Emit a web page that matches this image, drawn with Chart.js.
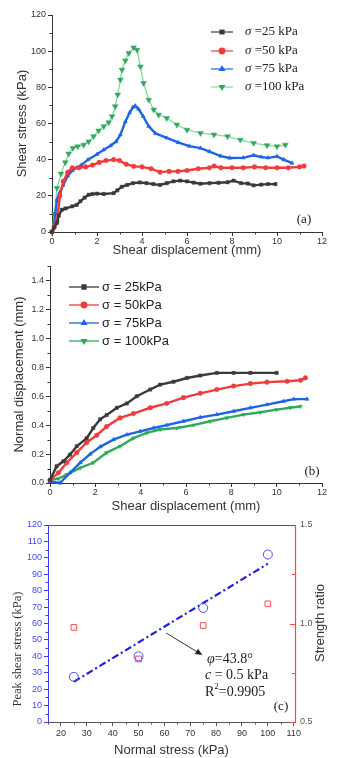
<!DOCTYPE html>
<html>
<head>
<meta charset="utf-8">
<script src="https://cdn.jsdelivr.net/npm/chart.js@4.4.1/dist/chart.umd.min.js"></script>
<style>
  html, body { margin: 0; padding: 0; background: #fff; }
  #wrap { position: relative; width: 355px; height: 758px; overflow: hidden; }
  canvas { position: absolute; left: 0; }
</style>
</head>
<body>
<div id="wrap">
  <canvas id="chart-a" width="355" height="258" style="top:0"></canvas>
  <canvas id="chart-b" width="355" height="256" style="top:258px"></canvas>
  <canvas id="chart-c" width="355" height="245" style="top:513px"></canvas>
</div>
<script>
// ---- (a) shear stress vs shear displacement ----
const a25x = [0, 0.1, 0.22, 0.3, 0.44, 0.6, 0.9, 1.1, 1.26, 1.45, 1.63, 1.8, 2.0, 2.3, 2.74, 2.9, 3.1, 3.33, 3.6, 3.9, 4.2, 4.5, 4.8, 5.1, 5.4, 5.7, 6.0, 6.3, 6.6, 7.0, 7.4, 7.8, 8.07, 8.4, 8.7, 8.96, 9.3, 9.6, 9.93];
const a25y = [0, 2.5, 5, 9, 12.3, 13, 14.2, 15, 17, 19, 20.6, 21, 21.2, 21, 21.5, 23, 25, 26, 27, 27.4, 27, 26.5, 26, 27, 28, 28.4, 28, 27.3, 26.7, 27, 27.2, 27.5, 28.4, 27, 26.8, 25.8, 26.2, 26.5, 26.5];
const a50x = [0, 0.1, 0.22, 0.35, 0.5, 0.7, 0.9, 1.2, 1.5, 1.8, 2.1, 2.4, 2.74, 3.0, 3.3, 3.63, 4.0, 4.4, 4.8, 5.2, 5.6, 6.0, 6.5, 7.0, 7.2, 7.5, 8.0, 8.5, 9.0, 9.5, 10.0, 10.5, 11.0, 11.2];
const a50y = [0, 3, 6, 20, 28, 33, 35.5, 35.5, 36, 37, 38.5, 39.5, 40, 39.5, 37.5, 36.3, 36, 35, 33.1, 33.5, 33.5, 34, 35, 35.5, 36.5, 35.5, 35.5, 35.5, 36, 35.5, 35.5, 35.5, 36, 36.5];
const a75x = [0, 0.1, 0.15, 0.22, 0.35, 0.5, 0.7, 0.9, 1.1, 1.3, 1.6, 2.0, 2.3, 2.6, 2.85, 3.04, 3.26, 3.45, 3.6, 3.7, 3.85, 4.05, 4.3, 4.6, 5.1, 5.6, 6.1, 6.6, 7.0, 7.5, 7.9, 8.5, 8.96, 9.3, 9.6, 10.0, 10.3, 10.67];
const a75y = [0, 5, 10, 17.9, 22, 26, 31, 34, 35.5, 37, 40, 43, 45.5, 47.7, 50, 53.8, 61, 66, 69, 69.8, 68, 64, 58.4, 54.5, 52, 49.5, 47.5, 46.4, 44.5, 42, 40.9, 41, 42.4, 41.5, 41, 41.8, 40, 38.1];
const a100x = [0, 0.1, 0.22, 0.4, 0.59, 0.74, 0.93, 1.14, 1.41, 1.63, 1.85, 2.07, 2.3, 2.52, 2.67, 2.81, 2.92, 3.04, 3.11, 3.26, 3.41, 3.63, 3.78, 3.93, 4.07, 4.3, 4.52, 4.74, 5.1, 5.55, 6.0, 6.6, 7.2, 7.8, 8.37, 8.96, 9.56, 10.0, 10.37];
const a100y = [0, 10, 24.3, 32.2, 38.5, 43.3, 46.4, 47.3, 48.2, 50, 52.9, 56, 58.4, 60.6, 63.9, 69.4, 75.9, 84.2, 89.7, 94.8, 98.9, 102, 100.7, 91.5, 82.3, 73.1, 67.6, 64.8, 63, 59.3, 56.5, 54.7, 53.8, 52.9, 51, 49.2, 47.9, 47.3, 48.2];
const legendA = ['=25 kPa', '=50 kPa', '=75 kPa', '=100 kPa'];

// ---- (b) normal displacement vs shear displacement ----
const b25x = [0, 0.29, 0.59, 0.88, 1.18, 1.62, 1.91, 2.21, 2.5, 2.95, 3.39, 3.83, 4.42, 4.86, 5.45, 6.04, 6.63, 7.36, 8.1, 8.84, 10.0];
const b25y = [0.02, 0.115, 0.15, 0.196, 0.254, 0.31, 0.38, 0.44, 0.47, 0.52, 0.55, 0.6, 0.646, 0.68, 0.7, 0.726, 0.743, 0.761, 0.761, 0.761, 0.761];
const b50x = [0, 0.37, 0.74, 1.18, 1.62, 2.06, 2.5, 3.09, 3.68, 4.42, 5.15, 5.89, 6.63, 7.36, 8.1, 8.84, 9.57, 10.46, 11.05, 11.27];
const b50y = [0.02, 0.07, 0.14, 0.21, 0.28, 0.33, 0.39, 0.45, 0.48, 0.52, 0.55, 0.59, 0.62, 0.646, 0.67, 0.687, 0.697, 0.703, 0.71, 0.727];
const b75x = [0, 0.44, 0.88, 1.33, 1.77, 2.21, 2.8, 3.39, 3.98, 4.57, 5.15, 5.89, 6.63, 7.36, 8.1, 8.84, 9.57, 10.3, 10.75, 11.34];
const b75y = [0.01, 0.0, 0.07, 0.14, 0.2, 0.25, 0.3, 0.334, 0.357, 0.38, 0.4, 0.427, 0.454, 0.473, 0.496, 0.519, 0.542, 0.565, 0.58, 0.58];
const b100x = [0, 0.37, 0.74, 1.33, 1.91, 2.5, 3.09, 3.68, 4.27, 4.86, 5.6, 6.33, 7.07, 7.8, 8.54, 9.28, 10.0, 10.6, 11.05];
const b100y = [0.02, 0.03, 0.058, 0.104, 0.14, 0.21, 0.254, 0.31, 0.346, 0.37, 0.38, 0.4, 0.427, 0.45, 0.473, 0.489, 0.507, 0.52, 0.53];
const legendB = ['σ = 25kPa', 'σ = 50kPa', 'σ = 75kPa', 'σ = 100kPa'];

// ---- (c) peak shear stress / strength ratio vs normal stress ----
const cStress = [25, 50, 75, 100];
const cPeak = [27.5, 40, 69.5, 102];
const cRatio = [0.98, 0.82, 0.99, 1.10];
const cFitX = [25, 100];
const cFitY = [24.5, 96.4];

const colors = {
    black: '#3a3a3a',
    red: '#f03c3c',
    blue: '#1e64e6',
    green: '#2eaa5c',
    greenLine: '#86d6a6'
};

Chart.defaults.font.family = "'Liberation Sans', Arial, sans-serif";
Chart.defaults.color = '#333';

const pts = (xs, ys) => xs.map((x, i) => ({ x, y: ys[i] }));

// small tick marks between labels, drawn after the chart
const minorTicks = {
    id: 'minorTicks',
    afterDraw(chart, args, opts) {
        const ctx = chart.ctx;
        (opts.list || []).forEach(m => {
            const s = chart.scales[m.id];
            ctx.save();
            ctx.strokeStyle = m.color;
            ctx.lineWidth = 1;
            ctx.beginPath();
            for (let v = m.from; v <= s.max + 1e-9; v += m.step) {
                if (v < s.min - 1e-9) continue;
                const p = Math.round(s.getPixelForValue(v)) + 0.5;
                if (s.isHorizontal()) {
                    ctx.moveTo(p, s.top);
                    ctx.lineTo(p, s.top + m.len);
                } else if (s.position === 'left') {
                    const x0 = s.right;
                    ctx.moveTo(x0, p);
                    ctx.lineTo(m.dir === 'in' ? x0 + m.len : x0 - m.len, p);
                } else {
                    const x0 = s.left;
                    ctx.moveTo(x0, p);
                    ctx.lineTo(m.dir === 'in' ? x0 - m.len : x0 + m.len, p);
                }
            }
            ctx.stroke();
            ctx.restore();
        });
    }
};

function axis(color, labelColor) {
    return {
        border: { display: true, color: color, width: 1 },
        grid: { display: true, drawOnChartArea: false, drawTicks: true, tickLength: 4, color: color },
        ticks: { color: labelColor || '#333', font: { size: 9 }, padding: 2, includeBounds: false }
    };
}

function marker(ctx, style, rotation, color, x, y, r) {
    ctx.fillStyle = color;
    ctx.strokeStyle = color;
    Chart.helpers.drawPoint(ctx, { pointStyle: style, radius: r, rotation: rotation, borderWidth: 0.5 }, x, y);
}

const seriesStyle = [
    { color: colors.black, line: colors.black, style: 'rect', rot: 0 },
    { color: colors.red, line: colors.red, style: 'circle', rot: 0 },
    { color: colors.blue, line: colors.blue, style: 'triangle', rot: 0 },
    { color: colors.green, line: colors.greenLine, style: 'triangle', rot: 180 }
];

function ds(data, i, dense) {
    const st = seriesStyle[i];
    return {
        data: data,
        showLine: true,
        borderColor: st.line,
        backgroundColor: st.color,
        pointBorderColor: st.color,
        pointBackgroundColor: st.color,
        pointBorderWidth: 0.5,
        borderWidth: dense ? 2.4 : 1.3,
        pointRadius: dense ? 2.3 : 3.3,
        pointStyle: st.style,
        pointRotation: st.rot,
        tension: 0,
        clip: false
    };
}

// ---------- chart (a) ----------
const legendPluginA = {
    id: 'legendA',
    afterDraw(chart) {
        const ctx = chart.ctx;
        const rows = [32, 51, 69, 87];
        ctx.save();
        rows.forEach((y, i) => {
            const st = seriesStyle[i];
            ctx.strokeStyle = st.line;
            ctx.lineWidth = 1.2;
            ctx.beginPath();
            ctx.moveTo(211, y);
            ctx.lineTo(233, y);
            ctx.stroke();
            marker(ctx, st.style, st.rot, st.color, 222, y, 2.8);
            ctx.fillStyle = '#222';
            ctx.textBaseline = 'middle';
            ctx.font = "italic 13px 'Liberation Serif', serif";
            ctx.fillText('σ', 245, y);
            const w = ctx.measureText('σ ').width;
            ctx.font = "13px 'Liberation Serif', serif";
            ctx.fillText(legendA[i], 245 + w, y);
        });
        ctx.font = "13px 'Liberation Serif', serif";
        ctx.textAlign = 'center';
        ctx.fillText('(a)', 304, 220);
        ctx.restore();
    }
};

const axA = axis('#333');
const ayA = axis('#333');
new Chart(document.getElementById('chart-a'), {
    type: 'scatter',
    data: {
        datasets: [
            ds(pts(a25x, a25y), 0, true),
            ds(pts(a50x, a50y), 1, true),
            ds(pts(a75x, a75y), 2, true),
            ds(pts(a100x, a100y), 3, false)
        ]
    },
    options: {
        responsive: false,
        animation: false,
        devicePixelRatio: 1,
        events: [],
        layout: { padding: { left: 0, right: 33, top: 15, bottom: 0 } },
        plugins: {
            legend: { display: false },
            tooltip: { enabled: false },
            minorTicks: {
                list: [
                    { id: 'x', from: 1, step: 2, len: 2.5, color: '#333' },
                    { id: 'y', from: 10, step: 20, len: 2.5, color: '#333' }
                ]
            }
        },
        scales: {
            x: Object.assign(axA, {
                type: 'linear', min: 0, max: 12,
                ticks: Object.assign(axA.ticks, { stepSize: 2, padding: 0 }),
                title: { display: true, text: 'Shear displacement (mm)', color: '#333', font: { size: 13 }, padding: { top: 0, bottom: 0 } },
                afterFit: s => { s.height = 26; }
            }),
            y: Object.assign(ayA, {
                min: 0, max: 120,
                ticks: Object.assign(ayA.ticks, { stepSize: 20 }),
                title: { display: true, text: 'Shear stress (kPa)', color: '#333', font: { size: 13 }, padding: { top: 15, bottom: 0 } },
                afterFit: s => { s.width = 52; }
            })
        }
    },
    plugins: [minorTicks, legendPluginA]
});

// ---------- chart (b) ----------
const legendPluginB = {
    id: 'legendB',
    afterDraw(chart) {
        const ctx = chart.ctx;
        const rows = [29, 47, 65, 83];
        ctx.save();
        rows.forEach((y, i) => {
            const st = seriesStyle[i];
            ctx.strokeStyle = i === 3 ? colors.green : st.line;
            ctx.lineWidth = 1.3;
            ctx.beginPath();
            ctx.moveTo(69, y);
            ctx.lineTo(99, y);
            ctx.stroke();
            marker(ctx, st.style, st.rot, st.color, 84, y, 2.8);
            ctx.fillStyle = '#222';
            ctx.textBaseline = 'middle';
            ctx.font = "13px 'Liberation Sans', Arial, sans-serif";
            ctx.fillText(legendB[i], 102, y);
        });
        ctx.font = "13px 'Liberation Serif', serif";
        ctx.textAlign = 'center';
        ctx.fillText('(b)', 312, 214);
        ctx.restore();
    }
};

const axB = axis('#333');
const ayB = axis('#333');
new Chart(document.getElementById('chart-b'), {
    type: 'scatter',
    data: {
        datasets: [
            ds(pts(b25x, b25y), 0, true),
            ds(pts(b50x, b50y), 1, true),
            ds(pts(b75x, b75y), 2, true),
            Object.assign(ds(pts(b100x, b100y), 3, true), { borderColor: colors.green })
        ]
    },
    options: {
        responsive: false,
        animation: false,
        devicePixelRatio: 1,
        events: [],
        layout: { padding: { left: 0, right: 33, top: 8, bottom: 0 } },
        plugins: {
            legend: { display: false },
            tooltip: { enabled: false },
            minorTicks: {
                list: [
                    { id: 'x', from: 1, step: 2, len: 2.5, color: '#333' },
                    { id: 'y', from: 0.1, step: 0.2, len: 2.5, color: '#333' }
                ]
            }
        },
        scales: {
            x: Object.assign(axB, {
                type: 'linear', min: 0, max: 12,
                ticks: Object.assign(axB.ticks, { stepSize: 2, padding: 0 }),
                title: { display: true, text: 'Shear displacement (mm)', color: '#333', font: { size: 13 }, padding: { top: 0, bottom: 0 } },
                afterFit: s => { s.height = 31; }
            }),
            y: Object.assign(ayB, {
                min: 0, max: 1.5,
                ticks: Object.assign(ayB.ticks, { stepSize: 0.2, callback: v => v.toFixed(1) }),
                title: { display: true, text: 'Normal displacement (mm)', color: '#333', font: { size: 13 }, padding: { top: 12, bottom: 0 } },
                afterFit: s => { s.width = 50; }
            })
        }
    },
    plugins: [minorTicks, legendPluginB]
});

// ---------- chart (c) ----------
const redAxis = '#ff4444';
const extrasC = {
    id: 'extrasC',
    afterDraw(chart) {
        const ctx = chart.ctx;
        const { left, right, top, bottom } = chart.chartArea;
        const sx = chart.scales.x, sy = chart.scales.y;
        ctx.save();
        // top frame line and red right axis
        ctx.strokeStyle = '#555';
        ctx.lineWidth = 1;
        ctx.beginPath();
        ctx.moveTo(left, top + 0.5);
        ctx.lineTo(right, top + 0.5);
        ctx.stroke();
        ctx.strokeStyle = redAxis;
        ctx.lineWidth = 1.2;
        ctx.beginPath();
        ctx.moveTo(Math.round(right) + 0.5, top);
        ctx.lineTo(Math.round(right) + 0.5, bottom);
        ctx.stroke();

        // axis titles
        ctx.fillStyle = '#333';
        ctx.textAlign = 'center';
        ctx.textBaseline = 'middle';
        ctx.save();
        ctx.translate(18, 136);
        ctx.rotate(-Math.PI / 2);
        ctx.font = "12.5px 'Liberation Serif', serif";
        ctx.fillText('Peak shear stress (kPa)', 0, 0);
        ctx.restore();
        ctx.save();
        ctx.translate(320, 110);
        ctx.rotate(-Math.PI / 2);
        ctx.font = "13px 'Liberation Sans', Arial, sans-serif";
        ctx.fillText('Strength ratio', 0, 0);
        ctx.restore();

        // arrow to the fit line
        const x0 = sx.getPixelForValue(60.7), y0 = sy.getPixelForValue(54.2);
        const x1 = sx.getPixelForValue(74.7), y1 = sy.getPixelForValue(40.8);
        const ang = Math.atan2(y1 - y0, x1 - x0);
        ctx.strokeStyle = '#222';
        ctx.fillStyle = '#222';
        ctx.lineWidth = 0.9;
        ctx.beginPath();
        ctx.moveTo(x0, y0);
        ctx.lineTo(x1 - 4 * Math.cos(ang), y1 - 4 * Math.sin(ang));
        ctx.stroke();
        ctx.beginPath();
        ctx.moveTo(x1, y1);
        ctx.lineTo(x1 - 7 * Math.cos(ang) + 3 * Math.sin(ang), y1 - 7 * Math.sin(ang) - 3 * Math.cos(ang));
        ctx.lineTo(x1 - 7 * Math.cos(ang) - 3 * Math.sin(ang), y1 - 7 * Math.sin(ang) + 3 * Math.cos(ang));
        ctx.closePath();
        ctx.fill();

        // fit annotation
        ctx.textAlign = 'left';
        ctx.fillStyle = '#222';
        const serif = "'Liberation Serif', serif";
        let x = 207;
        ctx.font = 'italic 14px ' + serif;
        ctx.fillText('φ', x, 146);
        x += ctx.measureText('φ').width;
        ctx.font = '14px ' + serif;
        ctx.fillText('=43.8°', x, 146);

        x = 205;
        ctx.font = 'italic 14px ' + serif;
        ctx.fillText('c', x, 162);
        x += ctx.measureText('c').width;
        ctx.font = '14px ' + serif;
        ctx.fillText(' = 0.5 kPa', x, 162);

        x = 205;
        ctx.fillText('R', x, 179);
        x += ctx.measureText('R').width;
        ctx.font = '9px ' + serif;
        ctx.fillText('2', x, 174);
        x += ctx.measureText('2').width;
        ctx.font = '14px ' + serif;
        ctx.fillText('=0.9905', x, 179);

        ctx.textAlign = 'center';
        ctx.font = '13px ' + serif;
        ctx.fillText('(c)', 281, 194);
        ctx.restore();
    }
};

const blueAxis = '#3a3aff';
const axC = axis('#555');
const ayC = axis(blueAxis, '#4545ff');
const ay2C = axis(redAxis, '#555');
new Chart(document.getElementById('chart-c'), {
    type: 'scatter',
    data: {
        datasets: [
            {
                data: pts(cStress, cPeak),
                pointStyle: 'circle',
                pointRadius: 4.5,
                pointBorderWidth: 1,
                pointBorderColor: '#4b4bff',
                pointBackgroundColor: 'rgba(0,0,0,0)',
                clip: false
            },
            {
                data: pts(cStress, cRatio),
                yAxisID: 'y2',
                pointStyle: 'rect',
                pointRadius: 4,
                pointBorderWidth: 1,
                pointBorderColor: '#ff4a4a',
                pointBackgroundColor: 'rgba(0,0,0,0)',
                clip: false
            },
            {
                data: pts(cFitX, cFitY),
                showLine: true,
                pointRadius: 0,
                borderColor: '#1f1fe6',
                borderWidth: 2.2,
                borderDash: [7, 3, 2, 3],
                tension: 0
            }
        ]
    },
    options: {
        responsive: false,
        animation: false,
        devicePixelRatio: 1,
        events: [],
        layout: { padding: { left: 0, right: 0, top: 12, bottom: 0 } },
        plugins: {
            legend: { display: false },
            tooltip: { enabled: false },
            minorTicks: {
                list: [
                    { id: 'x', from: 15, step: 10, len: 2.5, color: '#555' },
                    { id: 'y', from: 5, step: 10, len: 2.5, color: blueAxis },
                    { id: 'y2', from: 0.5, step: 0.5, len: 5, color: redAxis, dir: 'in' },
                    { id: 'y2', from: 0.75, step: 0.5, len: 3, color: redAxis, dir: 'in' }
                ]
            }
        },
        scales: {
            x: Object.assign(axC, {
                type: 'linear', min: 15, max: 110.5,
                ticks: Object.assign(axC.ticks, { stepSize: 10, padding: 2 }),
                title: { display: true, text: 'Normal stress (kPa)', color: '#333', font: { size: 13 }, padding: { top: 0, bottom: 0 } },
                afterFit: s => { s.height = 36; }
            }),
            y: Object.assign(ayC, {
                position: 'left', min: 0, max: 120,
                ticks: Object.assign(ayC.ticks, { stepSize: 10 }),
                afterFit: s => { s.width = 48; }
            }),
            y2: Object.assign(ay2C, {
                position: 'right', min: 0.5, max: 1.5,
                grid: { display: true, drawOnChartArea: false, drawTicks: false, color: redAxis },
                ticks: Object.assign(ay2C.ticks, { stepSize: 0.5, padding: 5, callback: v => v.toFixed(1) }),
                afterFit: s => { s.width = 60; }
            })
        }
    },
    plugins: [minorTicks, extrasC]
});
</script>
</body>
</html>
